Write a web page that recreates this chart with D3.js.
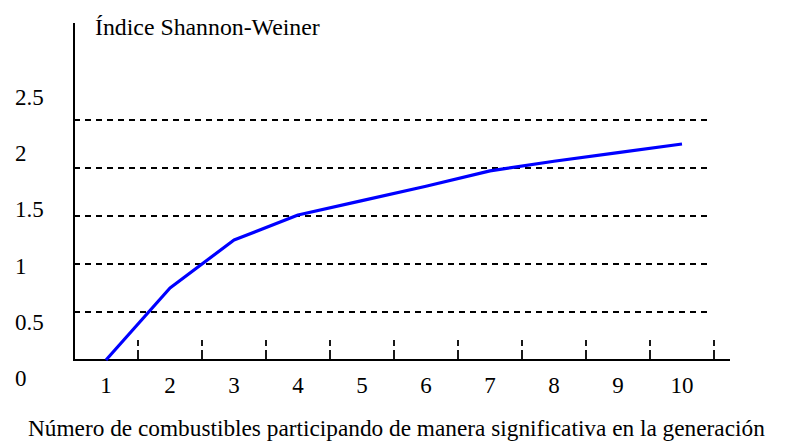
<!DOCTYPE html>
<html>
<head>
<meta charset="utf-8">
<script src="https://cdn.jsdelivr.net/npm/d3@7"></script>
<style>
  body { margin: 0; background: #fff; }
  text { font-family: "Liberation Serif", "Times New Roman", serif; fill: #000; }
</style>
</head>
<body>
<div id="chart"></div>
<script>
// data
const categories = [1, 2, 3, 4, 5, 6, 7, 8, 9, 10];
const shannon = [0, 0.75, 1.25, 1.51, 1.66, 1.81, 1.97, 2.07, 2.16, 2.25];
const gridValues = [0.5, 1, 1.5, 2, 2.5];
const yTickLabels = ["0", "0.5", "1", "1.5", "2", "2.5"];
const yTitle = "Índice Shannon-Weiner";
const xTitle = "Número de combustibles participando de manera significativa en la generación";

const width = 792, height = 445;

const svg = d3.select("#chart").append("svg")
  .attr("width", width)
  .attr("height", height);

// scales
const x = d3.scaleLinear().domain([0.5, 10.5]).range([74, 714]);
const y = d3.scaleLinear().domain([0, 2.5]).range([360, 120]);
// the tick labels sit on their own spacing (not aligned to gridlines)
const yLabel = d3.scaleLinear().domain([0, 2.5]).range([378, 97]);

// dashed gridlines
svg.selectAll(".grid")
  .data(gridValues)
  .enter()
  .append("line")
  .attr("x1", x(0.5))
  .attr("x2", x(10.45))
  .attr("y1", d => y(d))
  .attr("y2", d => y(d))
  .attr("stroke", "#000")
  .attr("stroke-width", 1.8)
  .attr("stroke-dasharray", "6,5");

// axes
svg.append("line")
  .attr("x1", x(0.5)).attr("x2", x(0.5))
  .attr("y1", y(3.51)).attr("y2", y(0))
  .attr("stroke", "#000").attr("stroke-width", 2);

svg.append("line")
  .attr("x1", x(0.5) - 1).attr("x2", x(10.75))
  .attr("y1", y(0)).attr("y2", y(0))
  .attr("stroke", "#000").attr("stroke-width", 2);

// x ticks between categories
svg.selectAll(".tick")
  .data(categories)
  .enter()
  .append("line")
  .attr("x1", d => x(d + 0.5))
  .attr("x2", d => x(d + 0.5))
  .attr("y1", y(0))
  .attr("y2", y(0) - 20)
  .attr("stroke", "#000")
  .attr("stroke-width", 1.8)
  .attr("stroke-dasharray", "10,4,6");

// x labels
svg.selectAll(".xlab")
  .data(categories)
  .enter()
  .append("text")
  .attr("x", d => x(d))
  .attr("y", 385)
  .attr("dy", "0.35em")
  .attr("text-anchor", "middle")
  .attr("font-size", 23)
  .text(d => d);

// y labels
svg.selectAll(".ylab")
  .data(yTickLabels)
  .enter()
  .append("text")
  .attr("x", 15)
  .attr("y", d => yLabel(+d))
  .attr("dy", "0.35em")
  .attr("font-size", 23)
  .text(d => d);

// titles
svg.append("text")
  .attr("x", 95)
  .attr("y", 27)
  .attr("dy", "0.35em")
  .attr("font-size", 23.8)
  .text(yTitle);

svg.append("text")
  .attr("x", 28)
  .attr("y", 428)
  .attr("dy", "0.35em")
  .attr("font-size", 23.3)
  .text(xTitle);

// series line
const line = d3.line()
  .x((d, i) => x(categories[i]))
  .y(d => y(d));

svg.append("path")
  .datum(shannon)
  .attr("d", line)
  .attr("fill", "none")
  .attr("stroke", "#0000ff")
  .attr("stroke-width", 3.2)
  .attr("stroke-linejoin", "round");
</script>
</body>
</html>
